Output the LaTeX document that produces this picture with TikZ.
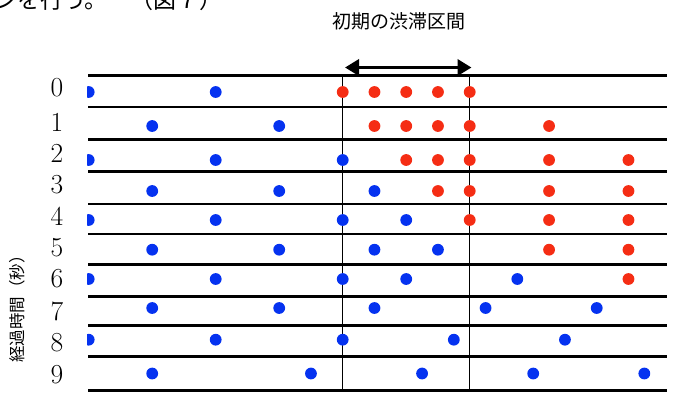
\documentclass[tikz,border=0pt]{standalone}
\usepackage{fontspec}
\newfontfamily\jp{Noto Sans CJK JP}
\usetikzlibrary{arrows.meta}
\definecolor{dotblue}{RGB}{5,50,240}
\definecolor{dotred}{RGB}{245,45,20}
\begin{document}
\begin{tikzpicture}[x=1pt,y=-1pt,
  hline/.style={line width=2.9pt,black},
  vline/.style={line width=1.4pt,black},
  bdot/.style={fill=dotblue},
  rdot/.style={fill=dotred},
  rowlab/.style={font=\fontsize{27.5}{27.5}\selectfont,inner sep=0pt},
  jptext/.style={font=\jp\fontsize{#1}{#1}\selectfont,inner sep=0pt}]
\useasboundingbox (0,0) rectangle (677,392);
\clip (0,0) rectangle (677,392);
% cut-off text line at the top
\node[jptext=23,anchor=base west] (toptext) at (-6,8.5) {ンを行う。　（図７）};
% title
\node[jptext=19] (title) at (398.5,21) {初期の渋滞区間};
% axis label
\node[jptext=16.5,rotate=90] (ylab) at (17,305) {経過時間（秒）};
% row labels
\foreach \i/\y in {0/88,1/122.5,2/153,3/185,4/216,5/248,6/279,7/311,8/343,9/375}
  \node[rowlab] (n\i) at (57,\y) {\i};
% horizontal lines
\foreach \y in {75.5,107,139.5,171.5,204,234,264.3,296.7,325.3,356.7,390.5}
  \draw[hline] (88,\y) -- (667,\y);
% vertical lines
\coordinate (v1t) at (342.7,75);
\coordinate (v1b) at (342.7,392);
\coordinate (v2t) at (469.5,75);
\coordinate (v2b) at (469.5,392);
\draw[vline] (v1t) -- (v1b);
\draw[vline] (v2t) -- (v2b);
% arrow
\coordinate (arrL) at (345,67.5);
\coordinate (arrR) at (471.5,67.5);
\draw[line width=3.8pt,{Triangle[length=14pt,width=16pt]}-{Triangle[length=14pt,width=16pt]}] (arrL) -- (arrR);
% dots
\begin{scope}
\clip (87,0) rectangle (677,392);
\foreach \y/\B in {92/{-8,-4},126/{-6,-2},160/{-8,-4,0},191/{-6,-2,1},220/{-8,-4,0,2},
  249.7/{-6,-2,1,3},279/{-8,-4,0,2,5.5},308/{-6,-2,1,4.5,8},339.7/{-8,-4,0,3.5,7},373.5/{-6,-1,2.5,6,9.5}}
  {\foreach \k in \B {\fill[bdot] ({342.7+31.75*\k},\y) circle (5.9);}}
\foreach \y/\R in {92/{0,1,2,3,4},126/{1,2,3,4,6.5},160/{2,3,4,6.5,9},191/{3,4,6.5,9},
  220/{4,6.5,9},249.7/{6.5,9},279/{9}}
  {\foreach \k in \R {\fill[rdot] ({342.7+31.75*\k},\y) circle (5.9);}}
\end{scope}
\end{tikzpicture}
\end{document}
